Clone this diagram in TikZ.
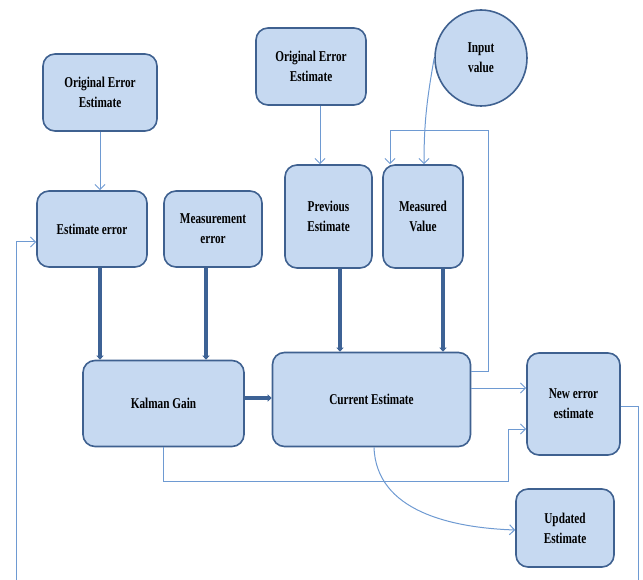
\documentclass[tikz,border=0pt]{standalone}
\usepackage{fontspec}
\setmainfont{Liberation Serif}[FakeStretch=0.75]
\usetikzlibrary{arrows.meta,shapes.geometric}
\definecolor{boxfill}{HTML}{C6D9F1}
\definecolor{boxline}{HTML}{3F6190}
\definecolor{thinc}{HTML}{6E9AD2}
\definecolor{thickc}{HTML}{3D6295}
\begin{document}
\begin{tikzpicture}[x=1pt,y=-1pt,
  box/.style={draw=boxline, line width=1.6pt, fill=boxfill, rounded corners=12pt,
    align=center, font=\fontsize{15}{20}\selectfont\bfseries, inner sep=0pt},
  thinline/.style={draw=thinc, line width=1pt, -{Straight Barb[length=5pt,width=10pt]}},
  plainline/.style={draw=thinc, line width=1pt},
  thickline/.style={draw=thickc, line width=3.5pt, -{Triangle[length=4pt,width=7pt]}}]
\useasboundingbox (0,0) rectangle (643,580);
\node[box, minimum width=114pt, minimum height=77pt] (oe1) at (100,92.5) {Original Error\\Estimate};
\node[box, minimum width=110pt, minimum height=76pt] (ee) at (92,229) {Estimate error};
\node[box, minimum width=98pt, minimum height=76pt] (me) at (213,229) {Measurement\\error};
\node[box, minimum width=110pt, minimum height=77pt] (oe2) at (311,66.5) {Original Error\\Estimate};
\node[box, ellipse, rounded corners=0pt, minimum width=92pt, minimum height=96pt] (iv) at (481,58) {Input\\value};
\node[box, minimum width=87pt, minimum height=103pt] (pe) at (328.5,216.5) {Previous\\Estimate};
\node[box, minimum width=80pt, minimum height=103pt] (mv) at (423,216.5) {Measured\\Value};
\node[box, minimum width=161pt, minimum height=86pt] (kg) at (163.5,403.5) {Kalman Gain};
\node[box, minimum width=198pt, minimum height=94pt] (ce) at (371.5,399.5) {Current Estimate};
\node[box, minimum width=93pt, minimum height=102pt] (ne) at (573.5,404) {New error\\estimate};
\node[box, minimum width=98pt, minimum height=78pt] (ue) at (565,528) {Updated\\Estimate};
\coordinate (fb) at (488,131);
\coordinate (kc) at (508,481);
\coordinate (nb) at (638,580);
\coordinate (lb) at (16,580);
% thin connectors
\draw[thinline] (oe1.south) -- (oe1.south |- ee.north);
\draw[thinline] ([xshift=9pt]oe2.south) -- ([xshift=9pt]oe2.south |- pe.north);
\draw[thinline] (iv.west) to[out=-100,in=90] ([xshift=1pt]mv.north);
\draw[thinline] ([yshift=28.5pt]ce.east) -| (fb) -| ([xshift=-33pt]mv.north);
\draw[thinline] ([yshift=11.5pt]ce.east) -- ([yshift=11.5pt]ce.east -| ne.west);
\draw[thinline] (kg.south) |- (kc) |- ([yshift=-25pt]ne.west);
\draw[thinline] ([xshift=2.5pt]ce.south) to[out=-88,in=178] ([yshift=-2pt]ue.west);
\draw[plainline] ([yshift=-2pt]ne.east) -| (nb);
\draw[thinline] (lb) |- ([yshift=-13pt]ee.west);
% thick connectors
\draw[thickline] ([xshift=8pt]ee.south) -- ([xshift=8pt]ee.south |- kg.north);
\draw[thickline] ([xshift=-7pt]me.south) -- ([xshift=-7pt]me.south |- kg.north);
\draw[thickline] ([xshift=11.5pt]pe.south) -- ([xshift=11.5pt]pe.south |- ce.north);
\draw[thickline] ([xshift=20pt]mv.south) -- ([xshift=20pt]mv.south |- ce.north);
\draw[thickline] ([yshift=5.5pt]kg.east) -- ([yshift=5.5pt]kg.east -| ce.west);
\end{tikzpicture}
\end{document}
